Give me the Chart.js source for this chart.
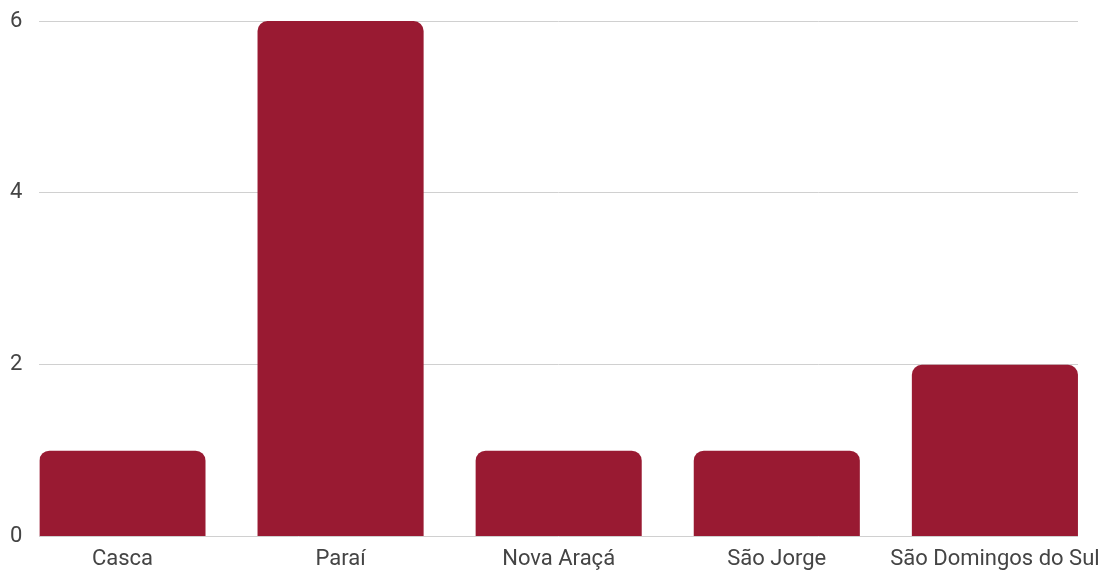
<!DOCTYPE html>
<html lang="pt-BR">
<head>
<meta charset="utf-8">
<title>Municípios</title>
<script src="https://cdn.jsdelivr.net/npm/chart.js@4"></script>
<style>
  html, body { margin: 0; padding: 0; background: #fff; }
  #wrap { width: 1107px; height: 570px; }
</style>
</head>
<body>
<div id="wrap"><canvas id="grafico"></canvas></div>
<script>
// categorias e valores de cada município
const municipios = ["Casca", "Paraí", "Nova Araçá", "São Jorge", "São Domingos do Sul"];
const quantidades = [1, 6, 1, 1, 2];
const ticksY = [0, 2, 4, 6];

// eixo x linear para as barras encostarem nas bordas da área do gráfico
const pontos = municipios.map((m, i) => ({ x: i, y: quantidades[i] }));
const meia = 0.381;

const ctx = document.getElementById('grafico').getContext('2d');

new Chart(ctx, {
  type: 'bar',
  data: {
    datasets: [{
      data: pontos,
      backgroundColor: '#991a32',
      borderRadius: 10,
      borderSkipped: 'start',
      categoryPercentage: 1,
      barPercentage: 0.7615
    }]
  },
  options: {
    responsive: true,
    maintainAspectRatio: false,
    animation: false,
    layout: { padding: { top: 21, right: 29, left: -7, bottom: -13 } },
    plugins: { legend: { display: false }, tooltip: { enabled: false } },
    scales: {
      x: {
        type: 'linear',
        offset: false,
        min: -meia,
        max: municipios.length - 1 + meia,
        grid: { display: false, offset: false, drawTicks: false },
        border: { display: false },
        afterBuildTicks: scale => {
          scale.ticks = municipios.map((m, i) => ({ value: i }));
        },
        // o último rótulo pode passar da área do gráfico
        afterFit: scale => {
          scale.paddingLeft = 0;
          scale.paddingRight = 0;
        },
        ticks: {
          stepSize: 1,
          autoSkip: false,
          maxRotation: 0,
          padding: 10,
          color: '#444',
          font: { family: 'Roboto', size: 22 },
          callback: v => municipios[v]
        }
      },
      y: {
        min: 0,
        max: 6,
        afterBuildTicks: scale => {
          scale.ticks = ticksY.map(v => ({ value: v }));
        },
        // sem folga extra acima/abaixo para os rótulos do eixo
        afterFit: scale => {
          scale.paddingTop = 0;
          scale.paddingBottom = 0;
        },
        grid: { color: '#d0d0d0', lineWidth: 1, drawTicks: false },
        border: { display: false },
        ticks: {
          padding: 17,
          color: '#444',
          font: { family: 'Roboto', size: 22 }
        }
      }
    }
  }
});
</script>
</body>
</html>
